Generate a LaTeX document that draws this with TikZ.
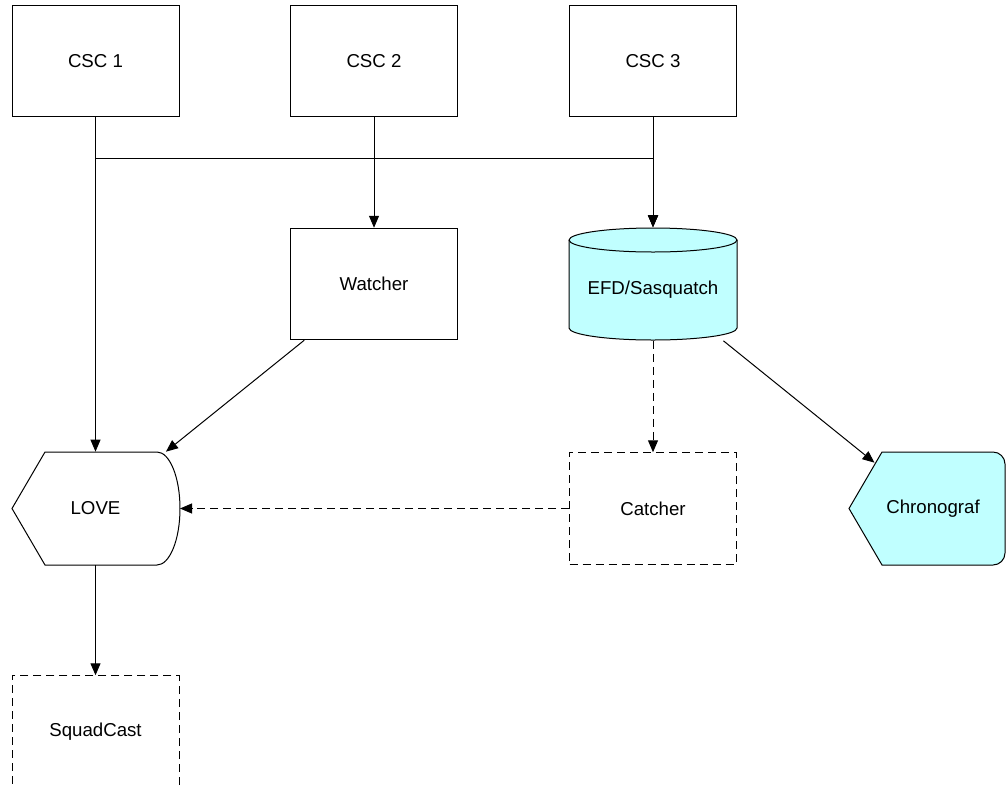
\documentclass[tikz,border=0pt]{standalone}
\usepackage{fontspec}
\setmainfont{Liberation Sans}
\usetikzlibrary{positioning,arrows.meta,calc}
\definecolor{paleCyan}{RGB}{192,255,255}

\begin{document}
\begin{tikzpicture}[x=0.75pt,y=-0.75pt,line width=0.75pt,->,>={Triangle[length=9pt,width=7.5pt]},font=\fontsize{14}{17}\selectfont,boxnode/.style={rectangle,draw,minimum width=125.25pt,minimum height=83.6pt,inner sep=0pt},dashnode/.style={boxnode,dash pattern=on 6pt off 3.75pt},ghostnode/.style={rectangle,minimum width=126pt,minimum height=84.5pt,inner sep=0pt},dashline/.style={dash pattern=on 6pt off 3.75pt}]

	\useasboundingbox (0,0) rectangle (1006,786);

	% outlines first, texts on top
	\draw[-, fill=paleCyan] (569,240) -- (569,328) .. controls (569,334.6) and (606.6,340) .. (653,340) .. controls (699.4,340) and (737,334.6) .. (737,328) -- (737,240) .. controls (737,233.4) and (699.4,228) .. (653,228) .. controls (606.6,228) and (569,233.4) .. (569,240) -- cycle;
	\draw[-] (569,240) .. controls (569,246.6) and (606.6,252) .. (653,252) .. controls (699.4,252) and (737,246.6) .. (737,240);
	\draw[-] (12,508.5) -- (45,452) -- (157,452) .. controls (169.7,452) and (180,477.3) .. (180,508.5) .. controls (180,539.7) and (169.7,565) .. (157,565) -- (45,565) -- cycle;
	\draw[-, fill=paleCyan] (849,508.5) -- (882,452) -- (993,452) .. controls (999.6,452) and (1005,457.4) .. (1005,464) -- (1005,553) .. controls (1005,559.6) and (999.6,565) .. (993,565) -- (882,565) -- cycle;

	\node [boxnode] (csc1) at (95.5, 61) {CSC 1};
	\node [boxnode] (csc2) at (374, 61) {CSC 2};
	\node [boxnode] (csc3) at (653, 61) {CSC 3};
	\node [boxnode] (watcher) at (374, 284) {Watcher};
	\node [ghostnode] (efd) at (653, 284) {};
	\node (efdtext) at (653, 290) {EFD/Sasquatch};
	\node [ghostnode] (love) at (95.5, 508.5) {LOVE};
	\node [dashnode] (catcher) at (653, 508.5) {Catcher};
	\node [ghostnode, minimum width=108pt] (chrono) at (933, 508.5) {Chronograf};
	\node [dashnode] (squad) at (95.5, 731.5) {SquadCast};
	\coordinate (bus) at (653, 158);

	\draw (csc1) to (love);
	\draw (csc2) to (watcher);
	\draw (csc3) to (efd);
	\draw (csc1.south) |- (bus) -- (efd.north);
	\draw (csc2.south) |- (bus) -- (efd.north);
	\draw (watcher) to (love);
	\draw (efd) to ($(chrono.north west)+(14,11)$);
	\draw [dashline] (efd) to (catcher);
	\draw [dashline] (catcher) to (love);
	\draw (love) to (squad);

\end{tikzpicture}
\end{document}
